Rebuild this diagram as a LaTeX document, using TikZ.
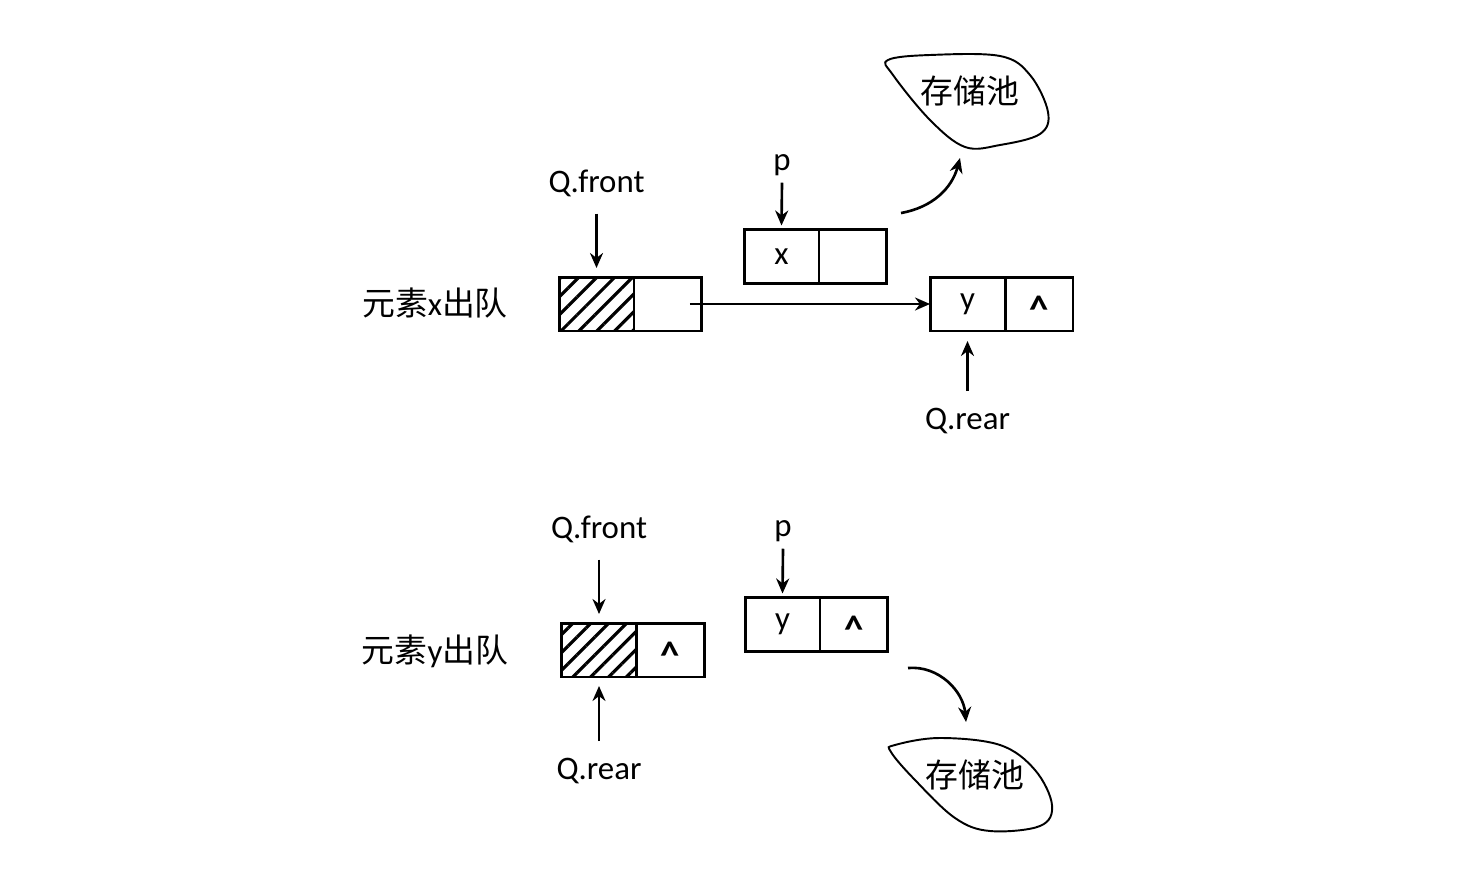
\documentclass[tikz,border=0pt]{standalone}
\usepackage{fontspec}
\setmainfont{Carlito}
\newfontfamily\cjk{Noto Sans CJK SC}
\usetikzlibrary{arrows.meta,positioning,patterns.meta}
\newcommand{\nilmark}{\raisebox{-0.55em}[0pt][0pt]{\fontsize{22}{22}\selectfont\bfseries\textasciicircum}}
\tikzset{
  cellbox/.style={draw, line width=1.7pt, minimum width=1.5cm, minimum height=1.08cm,
    inner sep=0pt, outer sep=0pt, font=\fontsize{18.7}{22}\selectfont},
  linkbox/.style={cellbox, minimum width=1.36cm},
  hatchbox/.style={cellbox, pattern={Lines[angle=45,distance=7.2pt,line width=1.8pt]}},
  lbl/.style={font=\fontsize{18.7}{22}\selectfont, inner sep=1pt},
  arr/.style={-{Stealth[length=3mm,width=2.6mm]}, line width=1.5pt},
  blob/.style={line width=1.1pt, tension=0.6}
}
\begin{document}
\begin{tikzpicture}[x=0.02cm,y=-0.02cm]
  \useasboundingbox (0,0) rectangle (1483,892);
  % element x leaves the queue
  \node[lbl] (capA) at (435,303) {{\cjk 元素}x{\cjk 出队}};
  \node[hatchbox] (headA) at (596.5,304) {};
  \node[linkbox, right=0pt of headA] (headAn) {};
  \node[cellbox] (xA) at (781.5,256.5) {x};
  \node[linkbox, right=0pt of xA] (xAn) {};
  \node[cellbox] (yA) at (967.5,304) {y};
  \node[linkbox, right=0pt of yA] (yAn) {\nilmark};
  \node[lbl] (frontA) at (596.5,183) {Q.front};
  \node[lbl] (pA) at (782,165) {p};
  \node[lbl] (rearA) at (967.5,421) {Q.rear};
  \node[lbl] (poolA) at (970,91) {\cjk 存储池};
  \draw[blob] plot[smooth cycle] coordinates {(888,60) (930,55) (1000,56) (1030,75)
    (1048,112) (1040,134) (1000,145) (965,147) (930,120) (893,75)};
  \draw[arr] ([yshift=-0.3cm]frontA.south) -- ([yshift=0.18cm]headA.north);
  \draw[arr] ([yshift=-0.1cm]pA.south) -- ([yshift=0.08cm]xA.north);
  \draw[arr] ([yshift=0.3cm]rearA.north) -- ([yshift=-0.2cm]yA.south);
  \draw[arr] ([xshift=0.44cm]headAn.center) -- (yA.west);
  \coordinate (outA) at (901,213);
  \coordinate (inA) at (960,158);
  \draw[arr] (outA) to[out=10,in=-105] (inA);
  % element y leaves the queue
  \node[lbl] (capB) at (435,651) {{\cjk 元素}y{\cjk 出队}};
  \node[hatchbox] (headB) at (599,650) {};
  \node[linkbox, right=0pt of headB] (headBn) {\nilmark};
  \node[cellbox] (yB) at (782.5,624.5) {y};
  \node[linkbox, right=0pt of yB] (yBn) {\nilmark};
  \node[lbl] (frontB) at (599,529) {Q.front};
  \node[lbl] (pB) at (783,531) {p};
  \node[lbl] (rearB) at (599,771) {Q.rear};
  \node[lbl] (poolB) at (975,775) {\cjk 存储池};
  \draw[blob] plot[smooth cycle] coordinates {(895,745) (940,738) (1000,745) (1035,770)
    (1052,805) (1040,826) (990,831) (955,818) (915,780) (891,752)};
  \draw[arr] ([yshift=-0.3cm]frontB.south) -- ([yshift=0.18cm]headB.north);
  \draw[arr] ([yshift=-0.1cm]pB.south) -- ([yshift=0.08cm]yB.north);
  \draw[arr] ([yshift=0.3cm]rearB.north) -- ([yshift=-0.18cm]headB.south);
  \coordinate (outB) at (908,668);
  \coordinate (inB) at (966,722);
  \draw[arr] (outB) to[out=5,in=95] (inB);
\end{tikzpicture}
\end{document}
